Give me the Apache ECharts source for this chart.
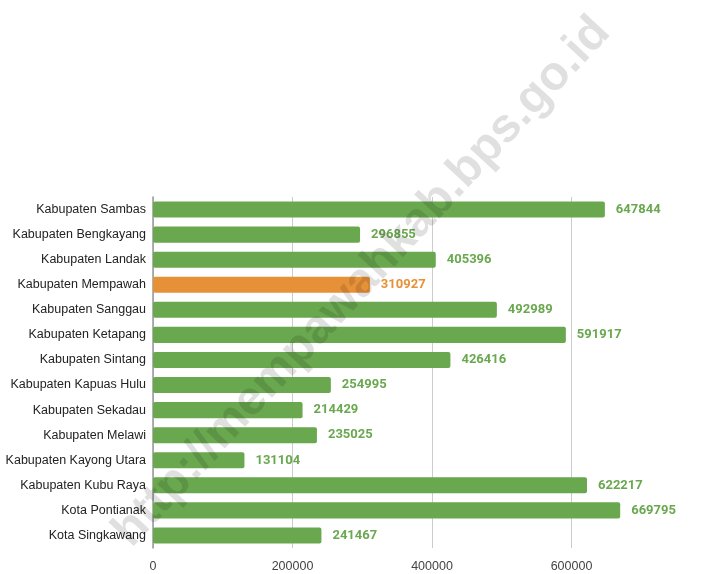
<!DOCTYPE html>
<html>
<head>
<meta charset="utf-8">
<script src="https://cdn.jsdelivr.net/npm/echarts@6/dist/echarts.min.js"></script>
<style>html,body{margin:0;padding:0;background:#fff}#c{width:703px;height:574px}</style>
</head>
<body>
<div id="c"></div>
<script>
const categories = ["Kabupaten Sambas","Kabupaten Bengkayang","Kabupaten Landak","Kabupaten Mempawah","Kabupaten Sanggau","Kabupaten Ketapang","Kabupaten Sintang","Kabupaten Kapuas Hulu","Kabupaten Sekadau","Kabupaten Melawi","Kabupaten Kayong Utara","Kabupaten Kubu Raya","Kota Pontianak","Kota Singkawang"];
const values = [647844,296855,405396,310927,492989,591917,426416,254995,214429,235025,131104,622217,669795,241467];
const highlight = "Kabupaten Mempawah";
const xTicks = [0,200000,400000,600000];
const GREEN = "#6aa84f", ORANGE = "#e69138";

const chart = echarts.init(document.getElementById('c'));
chart.setOption({
  animation:false,
  grid:{left:153, top:197, height:351, width:558, outerBoundsMode:'none', containLabel:false},
  xAxis:{type:'value', min:0, max:800000, interval:200000,
    axisLine:{show:false}, axisTick:{show:false},
    splitLine:{lineStyle:{color:'#cccccc', width:1}},
    axisLabel:{color:'#444', fontSize:12.5, fontFamily:'Liberation Sans, Arial', margin:12,
      formatter:v=>xTicks.includes(v)?String(v):''}},
  yAxis:{type:'category', data:categories, inverse:true,
    axisLine:{lineStyle:{color:'#999', width:1.5}}, axisTick:{show:false},
    axisLabel:{color:'#222', fontSize:12.5, fontFamily:'Liberation Sans, Arial', margin:7}},
  series:[{type:'bar', barCategoryGap:'36%',
    data: values.map((v,i)=>({value:v, itemStyle:{color: categories[i]===highlight?ORANGE:GREEN},
      label:{color: categories[i]===highlight?ORANGE:GREEN}})),
    itemStyle:{borderRadius:2},
    label:{show:true, position:'right', distance:11, fontWeight:'bold', fontSize:13, fontFamily:'Roboto'}
  }],
  graphic:[{type:'text', x:362, y:282, rotation:47*Math.PI/180, z:100,
    style:{text:'http://mempawahkab.bps.go.id', fill:'rgba(0,0,0,0.12)', font:'bold 48px "Liberation Sans", Arial',
      textAlign:'center', textVerticalAlign:'middle'}}]
});
</script>
</body>
</html>
